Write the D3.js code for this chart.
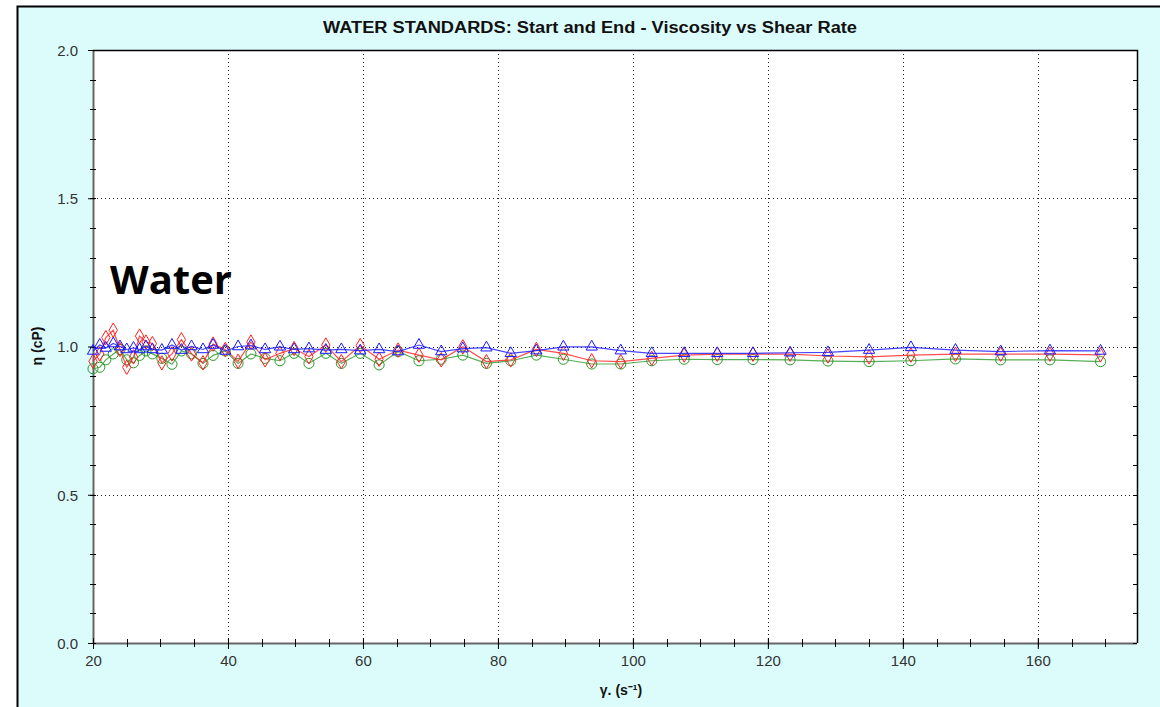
<!DOCTYPE html>
<html>
<head>
    <title>Water Standards - Viscosity vs Shear Rate</title>
    <script src="https://cdnjs.cloudflare.com/ajax/libs/d3/7.8.5/d3.min.js"></script>
    <style>
        body {
            margin: 0;
            background-color: #ffffff;
            font-family: "Liberation Sans", Arial, sans-serif;
        }

        .grid line {
            stroke: #222;
            stroke-width: 1px;
            stroke-dasharray: 1, 3;
        }
    </style>
</head>

<body>
    <div id="chart"></div>

    <script>
        // shear rate (s-1) of each reading
        const shearRate = [20.0, 21.0, 21.9, 23.0, 24.0, 25.0, 26.0, 26.9, 27.85, 28.8,
            30.2, 31.7, 33.1, 34.6, 36.3, 37.8, 39.6, 41.5, 43.4, 45.5,
            47.7, 49.8, 52.0, 54.5, 56.8, 59.6, 62.4, 65.2, 68.3, 71.6,
            74.8, 78.3, 81.9, 85.7, 89.7, 93.9, 98.2, 102.8, 107.6, 112.5,
            117.8, 123.3, 128.9, 135.0, 141.2, 147.8, 154.5, 161.8, 169.3];

        // viscosity (cP) for each run
        const redRun = [0.95, 0.975, 1.03, 1.055, 0.99, 0.93, 0.965, 1.035, 1.015, 1.01,
            0.945, 0.975, 1.023, 0.975, 0.945, 1.008, 0.99, 0.95, 1.015, 0.955,
            0.977, 0.993, 0.966, 1.005, 0.949, 1.003, 0.957, 0.988, 0.971, 0.955,
            0.999, 0.949, 0.955, 0.99, 0.977, 0.952, 0.949, 0.96, 0.971, 0.974,
            0.974, 0.974, 0.968, 0.965, 0.971, 0.974, 0.974, 0.974, 0.972];

        const blueRun = [0.985, 1.005, 0.995, 1.01, 1.0, 0.99, 0.995, 0.99, 1.0, 0.99,
            0.988, 1.005, 0.988, 1.0, 0.99, 1.005, 0.985, 1.0, 1.003, 0.99,
            0.999, 0.99, 0.993, 0.988, 0.99, 0.986, 0.99, 0.983, 1.005, 0.983,
            0.993, 0.996, 0.977, 0.986, 0.999, 0.999, 0.986, 0.977, 0.977, 0.977,
            0.977, 0.979, 0.98, 0.988, 0.997, 0.988, 0.983, 0.986, 0.985];

        const greenRun = [0.925, 0.93, 0.955, 0.975, 0.99, 0.955, 0.945, 0.97, 0.985, 0.975,
            0.96, 0.94, 0.985, 0.975, 0.943, 0.97, 0.985, 0.943, 0.975, 0.96,
            0.952, 0.977, 0.943, 0.977, 0.943, 0.977, 0.938, 0.983, 0.952, 0.957,
            0.971, 0.943, 0.952, 0.971, 0.957, 0.941, 0.941, 0.952, 0.957, 0.956,
            0.956, 0.955, 0.951, 0.949, 0.952, 0.958, 0.955, 0.955, 0.949];

        const xTicks = [20, 40, 60, 80, 100, 120, 140, 160];
        const yTicks = [0.0, 0.5, 1.0, 1.5, 2.0];

        const chartTitle = "WATER STANDARDS: Start and End - Viscosity vs Shear Rate";

        const width = 1160, height = 707;
        const plot = { left: 93, right: 1137, top: 50, bottom: 643 };

        const svg = d3.select("#chart").append("svg")
            .attr("width", width)
            .attr("height", height);

        // outer panel
        svg.append("rect")
            .attr("x", 17).attr("y", 6)
            .attr("width", width - 17).attr("height", height - 6)
            .attr("fill", "#dcfcfc");
        svg.append("path")
            .attr("d", `M17.5,${height} V6.5 H${width}`)
            .attr("fill", "none")
            .attr("stroke", "#000")
            .attr("stroke-width", 2);

        svg.append("rect")
            .attr("x", plot.left).attr("y", plot.top)
            .attr("width", plot.right - plot.left).attr("height", plot.bottom - plot.top)
            .attr("fill", "#fff");

        const x = d3.scaleLinear().domain([20, 174.7]).range([plot.left, plot.right]);
        const y = d3.scaleLinear().domain([0, 2]).range([plot.bottom, plot.top]);

        // dotted grid
        const grid = svg.append("g").attr("class", "grid");
        grid.selectAll(".gx")
            .data(xTicks.filter(d => d > 20))
            .enter().append("line")
            .attr("x1", d => Math.round(x(d)) + 0.5).attr("x2", d => Math.round(x(d)) + 0.5)
            .attr("y1", plot.top).attr("y2", plot.bottom);
        grid.selectAll(".gy")
            .data(yTicks.filter(d => d > 0 && d < 2))
            .enter().append("line")
            .attr("x1", plot.left).attr("x2", plot.right)
            .attr("y1", d => Math.round(y(d)) + 0.5).attr("y2", d => Math.round(y(d)) + 0.5);

        // frame: grey left/bottom axes, black top/right
        svg.append("line")
            .attr("x1", plot.left + 0.5).attr("x2", plot.left + 0.5)
            .attr("y1", plot.top).attr("y2", plot.bottom)
            .attr("stroke", "#666").attr("stroke-width", 2);
        svg.append("line")
            .attr("x1", plot.left).attr("x2", plot.right)
            .attr("y1", plot.bottom + 0.5).attr("y2", plot.bottom + 0.5)
            .attr("stroke", "#666").attr("stroke-width", 2);
        svg.append("path")
            .attr("d", `M${plot.left},${plot.top + 0.5} H${plot.right + 0.5} V${plot.bottom}`)
            .attr("fill", "none").attr("stroke", "#000").attr("stroke-width", 1.5);

        // y axis with minor ticks
        const yAxis = d3.axisLeft(y).tickValues(yTicks).tickFormat(d3.format(".1f"))
            .tickSize(5).tickPadding(10);
        const gy = svg.append("g").attr("transform", `translate(${plot.left},0)`).call(yAxis);
        gy.select(".domain").remove();
        gy.attr("font-size", 15).attr("font-family", "Liberation Sans");
        gy.selectAll(".tick line").attr("x2", -5).attr("x1", 2).attr("stroke", "#000");
        gy.selectAll(".tick text").attr("fill", "#333").attr("dy", "0.36em");
        const yMinor = d3.range(0, 2.01, 0.1);
        svg.append("g").selectAll("line")
            .data(yMinor)
            .enter().append("line")
            .attr("x1", plot.left - 3).attr("x2", plot.left + 3)
            .attr("y1", d => Math.round(y(d)) + 0.5).attr("y2", d => Math.round(y(d)) + 0.5)
            .attr("stroke", "#000");
        svg.append("g").selectAll("line")
            .data(yMinor)
            .enter().append("line")
            .attr("x1", plot.right - 4).attr("x2", plot.right)
            .attr("y1", d => Math.round(y(d)) + 0.5).attr("y2", d => Math.round(y(d)) + 0.5)
            .attr("stroke", "#000");

        // x axis with minor ticks
        const xAxis = d3.axisBottom(x).tickValues(xTicks).tickFormat(d3.format("d"))
            .tickSize(6).tickPadding(6);
        const gx = svg.append("g").attr("transform", `translate(0,${plot.bottom})`).call(xAxis);
        gx.select(".domain").remove();
        gx.attr("font-size", 15).attr("font-family", "Liberation Sans");
        gx.selectAll(".tick line").attr("y1", -5).attr("y2", 6).attr("stroke", "#000");
        gx.selectAll(".tick text").attr("fill", "#333");
        svg.append("g").selectAll("line")
            .data(d3.range(25, 175, 5))
            .enter().append("line")
            .attr("x1", d => Math.round(x(d)) + 0.5).attr("x2", d => Math.round(x(d)) + 0.5)
            .attr("y1", plot.bottom - 4).attr("y2", plot.bottom + 4)
            .attr("stroke", "#000");

        // titles
        svg.append("text")
            .attr("x", 590).attr("y", 33)
            .attr("text-anchor", "middle")
            .attr("font-size", 16).attr("font-weight", "bold")
            .attr("textLength", 534).attr("lengthAdjust", "spacingAndGlyphs")
            .attr("fill", "#111")
            .text(chartTitle);

        svg.append("text")
            .attr("transform", "translate(42,346) rotate(-90)")
            .attr("text-anchor", "middle")
            .attr("font-size", 14).attr("font-weight", "bold")
            .attr("fill", "#111")
            .text("η (cP)");

        svg.append("text")
            .attr("x", 621).attr("y", 695)
            .attr("text-anchor", "middle")
            .attr("font-size", 14).attr("font-weight", "bold")
            .attr("fill", "#111")
            .text("γ. (s⁻¹)");

        svg.append("text")
            .attr("x", 110).attr("y", 294)
            .attr("font-family", "Open Sans")
            .attr("font-size", 40).attr("font-weight", "bold")
            .attr("fill", "#000")
            .text("Water");

        // series
        const series = [
            { name: "green", values: greenRun, color: "#2a9a2a", symbol: d3.symbolCircle, size: 80 },
            { name: "red", values: redRun, color: "#ff2020", symbol: d3.symbolDiamond, size: 60 },
            { name: "blue", values: blueRun, color: "#1818ff", symbol: d3.symbolTriangle, size: 55 }
        ];

        const line = d3.line()
            .x(d => x(d[0]))
            .y(d => y(d[1]));

        series.forEach(s => {
            const pts = shearRate.map((r, i) => [r, s.values[i]]);
            svg.append("path")
                .datum(pts)
                .attr("fill", "none")
                .attr("stroke", s.color)
                .attr("stroke-width", 1.2)
                .attr("stroke-opacity", 0.8)
                .attr("d", line);

            svg.append("g").selectAll("path")
                .data(pts)
                .enter().append("path")
                .attr("transform", d => `translate(${x(d[0])},${y(d[1])})`)
                .attr("d", d3.symbol().type(s.symbol).size(s.size))
                .attr("fill", "none")
                .attr("stroke", s.color)
                .attr("stroke-width", 1);
        });
    </script>
</body>
</html>
